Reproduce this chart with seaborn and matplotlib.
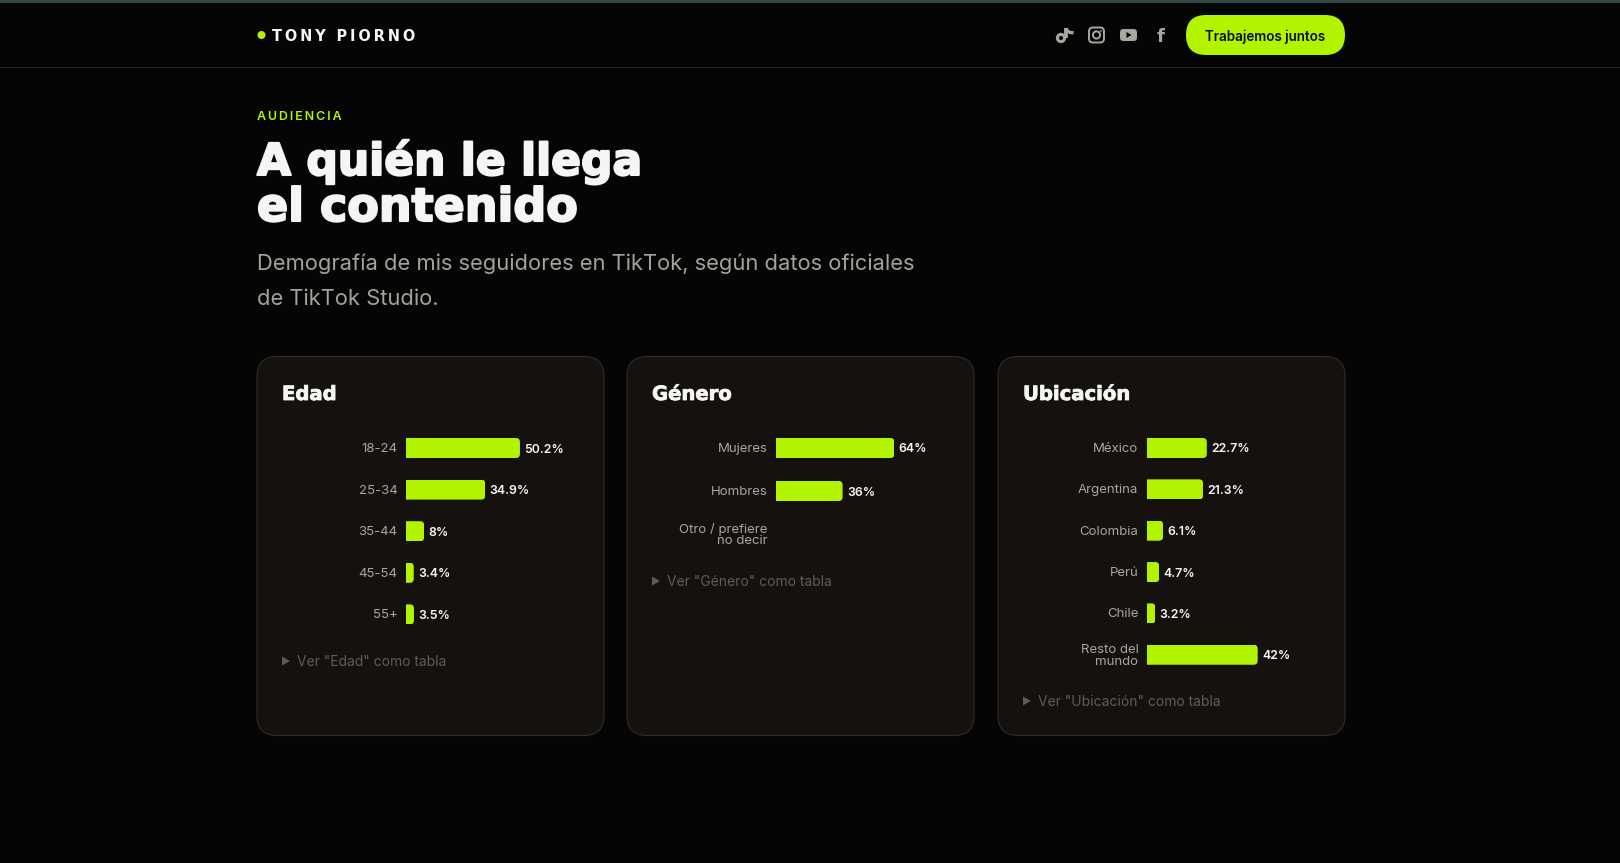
import numpy as np
import pandas as pd
import seaborn as sns
import matplotlib.pyplot as plt
import matplotlib.patheffects as pe
from matplotlib.patches import Circle, FancyBboxPatch, Polygon, Rectangle
from matplotlib.transforms import ScaledTranslation

# data
edad_labels = ["18-24", "25-34", "35-44", "45-54", "55+"]
edad_values = [50.2, 34.9, 8, 3.4, 3.5]
genero_labels = ["Mujeres", "Hombres", "Otro / prefiere\nno decir"]
genero_values = [64, 36, np.nan]
ubicacion_labels = ["México", "Argentina", "Colombia", "Perú", "Chile", "Resto del\nmundo"]
ubicacion_values = [22.7, 21.3, 6.1, 4.7, 3.2, 42]

BG = "#050505"
CARD = "#14110f"
EDGE = "#2f2d25"
LIME = "#b2f400"
GREY = "#a9a69f"
DIM = "#5f5c56"
WHITE = "#f5f5f3"
W, H = 1620, 863

sns.set_theme(style="white", rc={"axes.facecolor": "none", "figure.facecolor": BG})
plt.rcParams["font.family"] = ["Inter", "DejaVu Sans"]


def px(size):
    return size * 0.72


def heavy(width):
    # the heading face is heavier than anything installed
    return [pe.withStroke(linewidth=width, foreground=WHITE)]


fig = plt.figure(figsize=(W / 100, H / 100), dpi=100)
page = fig.add_axes([0, 0, 1, 1], zorder=0)
page.set_xlim(0, W)
page.set_ylim(H, 0)
page.axis("off")

# header
page.add_patch(Rectangle((0, 0), W, 3, color="#2e4848", lw=0))
page.add_patch(Rectangle((0, 67), W, 1, color="#242422", lw=0))
page.add_patch(Circle((261.5, 35), 4, color=LIME, lw=0))
page.text(272, 35, "\u2009".join("TONY PIORNO"), color=WHITE, fontsize=px(14.5), fontweight="bold",
          family="DejaVu Sans", va="center_baseline")
page.add_patch(FancyBboxPatch((1186, 15), 159, 40, boxstyle="round,pad=0,rounding_size=20", color=LIME, lw=0))
page.text(1265.5, 35, "Trabajemos juntos", color="#0a0a0a", fontsize=px(13.4), fontweight=600,
          ha="center", va="center_baseline")

# social icons
ICON = "#a9a69f"
page.add_patch(Circle((1061, 38), 3.6, fill=False, ec=ICON, lw=2.2))
page.plot([1065.5, 1065.5], [38, 28], color=ICON, lw=2.8, solid_capstyle="butt")
page.plot([1066, 1067.5, 1070, 1073.5], [28.5, 31, 32.5, 32.8], color=ICON, lw=2.4, solid_capstyle="butt")
page.add_patch(FancyBboxPatch((1089, 27.5), 15, 15, boxstyle="round,pad=0,rounding_size=4", fill=False, ec=ICON, lw=1.4))
page.add_patch(Circle((1096.5, 35), 3.6, fill=False, ec=ICON, lw=1.4))
page.add_patch(Circle((1100.8, 31), 0.9, color=ICON, lw=0))
page.add_patch(FancyBboxPatch((1120, 29), 17, 12, boxstyle="round,pad=0,rounding_size=3.5", color=ICON, lw=0))
page.add_patch(Polygon([[1126.5, 32], [1126.5, 38], [1131.5, 35]], color=BG, lw=0))
page.text(1160.5, 35.5, "f", color=ICON, fontsize=px(18), fontweight="bold", family="DejaVu Sans",
          ha="center", va="center_baseline")

# heading
page.text(257, 120, "\u2009".join("AUDIENCIA"), color=LIME, fontsize=px(12.4), fontweight=600)
page.text(257, 175, "A quién le llega", color=WHITE, fontsize=px(44), fontweight="bold", family="DejaVu Sans",
          path_effects=heavy(1.5))
page.text(257, 221, "el contenido", color=WHITE, fontsize=px(46), fontweight="bold", family="DejaVu Sans",
          path_effects=heavy(1.5))
page.text(257, 270, "Demografía de mis seguidores en TikTok, según datos oficiales",
          color="#a5a29a", fontsize=px(21.9))
page.text(257, 305, "de TikTok Studio.", color="#a5a29a", fontsize=px(21.9))


def draw_card(left, title, labels, values, row_gap, x_max, px_per_unit, bar_x, note_y):
    page.add_patch(FancyBboxPatch((left, 356.5), 347, 379, boxstyle="round,pad=0,rounding_size=20",
                                  fc=CARD, ec=EDGE, lw=0.8))
    page.text(left + 25, 400, title, color=WHITE, fontsize=px(19.6), fontweight="bold", family="DejaVu Sans",
              path_effects=heavy(0.6))
    page.add_patch(Polygon([[left + 25, note_y - 4.5], [left + 25, note_y + 4.5], [left + 33, note_y]],
                           color=DIM, lw=0))
    page.text(left + 40, note_y - 1, f'Ver "{title}" como tabla', color=DIM, fontsize=px(13.85), va="center_baseline")

    top = 448 - row_gap / 2
    height = row_gap * len(labels)
    ax = fig.add_axes([bar_x / W, 1 - (top + height) / H, x_max * px_per_unit / W, height / H], zorder=1)
    # a category with no figure stays on the axis as an empty row
    df = pd.DataFrame({"label": labels, "value": values}).fillna(0)
    sns.barplot(data=df, x="value", y="label", order=labels, color=LIME, saturation=1,
                width=20 / row_gap, ax=ax, errorbar=None, linewidth=0)
    ax.set_xlim(0, x_max)
    ax.set_xlabel("")
    ax.set_ylabel("")
    ax.set_xticks([])
    ax.tick_params(axis="y", length=0, pad=px(8.5), labelsize=px(13.2), labelcolor=GREY)
    nudge = ScaledTranslation(0, -1 / 100, fig.dpi_scale_trans)
    for lab in ax.get_yticklabels():
        lab.set_linespacing(1.0)
        lab.set_va("center")
        lab.set_transform(lab.get_transform() + nudge)
    sns.despine(ax=ax, left=True, bottom=True)

    value_texts = ax.bar_label(ax.containers[0], labels=["" if np.isnan(v) else f"{v:g}%" for v in values],
                               padding=px(4.3), color=WHITE, fontsize=px(12.3), fontweight=600)
    for txt in value_texts:
        txt.set_va("center_baseline")

    # round the right end of each bar
    to_page = ax.transData + page.transData.inverted()
    for bar in ax.patches:
        box = bar.get_bbox()
        (x0, y0), (x1, y1) = to_page.transform([[box.x0, box.y0], [box.x1, box.y1]])
        if x1 <= x0:
            continue
        ya, yb = min(y0, y1), max(y0, y1)
        clip = FancyBboxPatch((x0 - 10, ya), x1 - x0 + 10, yb - ya, boxstyle="round,pad=0,rounding_size=4",
                              transform=page.transData)
        bar.set_clip_path(clip)
    return ax


draw_card(257, "Edad", edad_labels, edad_values, 41.6, 60, 2.27, 406, 661)
draw_card(627, "Género", genero_labels, genero_values, 43, 80, 1.85, 776, 581)
draw_card(998, "Ubicación", ubicacion_labels, ubicacion_values, 41.35, 50, 2.635, 1147, 701)

fig.savefig("out.png", dpi=100, facecolor=BG)
